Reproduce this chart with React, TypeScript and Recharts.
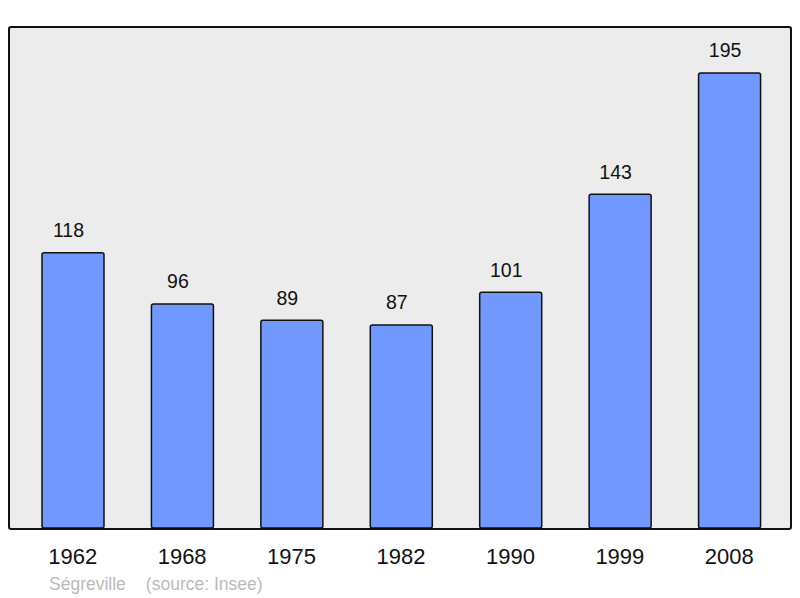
import { BarChart, Bar, XAxis, YAxis, LabelList } from "recharts";

const years = ["1962", "1968", "1975", "1982", "1990", "1999", "2008"];
const population = [118, 96, 89, 87, 101, 143, 195];

const data = years.map((year, i) => ({ year, population: population[i] }));

const App = () => {
    return (
        <div style={{ position: "relative", width: 800, height: 598, fontFamily: "'Liberation Sans', Arial, sans-serif" }}>
            <style>{`body { margin: 0; }`}</style>
            <div
                style={{
                    position: "absolute",
                    left: 8,
                    top: 26,
                    width: 780,
                    height: 500,
                    background: "#ececec",
                    border: "2px solid #111",
                    borderRadius: 3,
                }}
            />
            <div style={{ position: "absolute", left: 0, top: 0 }}>
                <BarChart width={800} height={598} data={data} margin={{ top: 27, left: 9, right: 10, bottom: 40 }}>
                    <XAxis
                        dataKey="year"
                        height={30}
                        axisLine={false}
                        tickLine={false}
                        tickSize={0}
                        tickMargin={20}
                        padding={{ left: 9, right: 6 }}
                        tick={{ fontSize: 22, fill: "#111" }}
                        interval={0}
                    />
                    <YAxis hide domain={[0, 214.7]} />
                    <Bar
                        dataKey="population"
                        fill="#7198ff"
                        stroke="#111"
                        strokeWidth={1.5}
                        barSize={62}
                        radius={2}
                        isAnimationActive={false}
                    >
                        <LabelList dataKey="population" position="top" offset={15.5} dx={-4.5} fill="#111" fontSize={19.5} />
                    </Bar>
                </BarChart>
            </div>
            <div style={{ position: "absolute", left: 49, top: 574, fontSize: 17.5, color: "#bbb" }}>
                Ségreville<span style={{ marginLeft: 20 }}>(source: Insee)</span>
            </div>
        </div>
    );
};

export default App;
